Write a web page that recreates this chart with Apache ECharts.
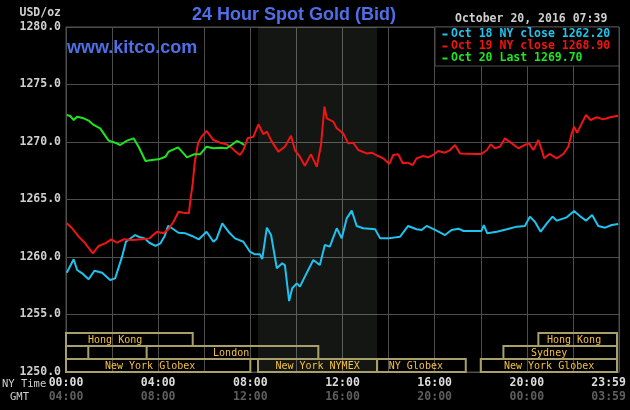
<!DOCTYPE html>
<html>
<head>
<meta charset="utf-8">
<script src="https://cdn.jsdelivr.net/npm/echarts@6.0.0/dist/echarts.min.js"></script>
<style>
html,body{margin:0;padding:0;background:#000;}
#chart{width:630px;height:410px;}
</style>
</head>
<body>
<div id="chart"></div>
<script>
// ---- Data (x = minutes after 00:00 NY time, y = USD/oz) ----
const oct18 = [[2,1258.63],[20,1259.80],[29,1258.87],[42,1258.58],[59,1258.06],[74,1258.81],[94,1258.63],[115,1258.00],[128,1258.14],[146,1260.03],[156,1261.33],[180,1261.91],[193,1261.71],[205,1261.62],[217,1261.24],[233,1260.96],[246,1261.19],[257,1261.83],[266,1262.70],[276,1262.50],[293,1262.11],[311,1262.06],[328,1261.83],[346,1261.54],[366,1262.20],[384,1261.33],[392,1261.57],[407,1262.93],[423,1262.20],[440,1261.62],[462,1261.33],[479,1260.46],[492,1260.23],[505,1260.23],[511,1259.83],[523,1262.55],[534,1261.91],[549,1259.02],[563,1259.45],[570,1259.30],[581,1256.17],[589,1257.28],[601,1257.71],[609,1257.42],[622,1258.29],[644,1259.74],[661,1259.30],[674,1261.04],[687,1260.90],[705,1262.50],[718,1261.62],[731,1263.36],[744,1264.03],[757,1262.70],[774,1262.50],[805,1262.41],[818,1261.62],[839,1261.62],[870,1261.77],[891,1262.70],[913,1262.41],[926,1262.35],[939,1262.70],[965,1262.29],[987,1261.91],[1004,1262.35],[1022,1262.46],[1035,1262.26],[1065,1262.26],[1082,1262.26],[1088,1262.78],[1097,1262.06],[1122,1262.20],[1148,1262.41],[1174,1262.64],[1195,1262.70],[1208,1263.51],[1221,1263.07],[1236,1262.20],[1252,1262.93],[1267,1263.51],[1278,1263.16],[1304,1263.45],[1323,1264.00],[1338,1263.57],[1354,1263.16],[1370,1263.65],[1386,1262.70],[1404,1262.55],[1421,1262.78],[1438,1262.87]];

const oct19 = [[2,1262.93],[16,1262.50],[33,1261.77],[50,1261.19],[70,1260.32],[85,1260.96],[102,1261.19],[118,1261.54],[133,1261.24],[150,1261.54],[172,1261.48],[198,1261.54],[217,1261.62],[237,1262.20],[254,1262.06],[267,1262.41],[280,1263.07],[293,1263.94],[306,1263.85],[320,1263.80],[324,1264.96],[330,1266.41],[335,1268.15],[344,1269.94],[353,1270.46],[366,1270.96],[384,1270.17],[401,1269.94],[418,1269.80],[431,1269.51],[440,1269.22],[453,1268.87],[462,1269.30],[473,1270.32],[488,1270.46],[501,1271.54],[514,1270.67],[523,1270.90],[536,1270.03],[553,1269.16],[570,1269.59],[586,1270.55],[596,1269.30],[609,1268.72],[622,1267.94],[638,1268.93],[653,1267.85],[664,1269.74],[673,1273.07],[679,1272.06],[696,1271.77],[705,1271.19],[722,1270.75],[735,1269.88],[748,1269.94],[761,1269.30],[783,1269.01],[796,1269.07],[813,1268.78],[826,1268.58],[842,1268.09],[852,1268.87],[865,1268.93],[877,1268.15],[889,1268.20],[903,1268.00],[913,1268.58],[930,1268.78],[943,1268.67],[956,1268.87],[969,1269.22],[987,1269.07],[1000,1269.30],[1013,1269.74],[1026,1269.01],[1065,1268.96],[1082,1268.96],[1096,1269.30],[1106,1269.80],[1117,1269.45],[1130,1269.59],[1143,1270.32],[1161,1269.88],[1178,1269.45],[1195,1269.74],[1206,1269.88],[1217,1269.30],[1230,1270.17],[1239,1269.30],[1245,1268.58],[1259,1268.96],[1278,1268.58],[1295,1268.96],[1308,1269.59],[1317,1270.75],[1323,1271.33],[1331,1270.81],[1343,1271.62],[1354,1272.35],[1366,1271.91],[1382,1272.15],[1399,1271.97],[1417,1272.15],[1438,1272.29]];

const oct20 = [[2,1272.35],[11,1272.26],[20,1271.91],[29,1272.20],[46,1272.06],[59,1271.86],[72,1271.48],[89,1271.19],[98,1270.75],[111,1270.12],[128,1269.94],[141,1269.74],[159,1270.12],[176,1270.32],[189,1269.59],[207,1268.35],[224,1268.43],[241,1268.49],[259,1268.72],[267,1269.16],[292,1269.54],[302,1269.16],[315,1268.67],[333,1268.93],[349,1268.93],[366,1269.59],[384,1269.45],[401,1269.51],[418,1269.45],[431,1269.74],[445,1270.09],[458,1269.88],[464,1269.74]];

const legendLabels = ['Oct 18 NY close 1262.20', 'Oct 19 NY close 1268.90', 'Oct 20 Last 1269.70'];
const nyTimeLabels = ['00:00', '04:00', '08:00', '12:00', '16:00', '20:00', '23:59'];
const gmtLabels = ['04:00', '08:00', '12:00', '16:00', '20:00', '00:00', '03:59'];
const titleText = '24 Hour Spot Gold (Bid)';
const siteText = 'www.kitco.com';
const dateText = 'October 20, 2016 07:39';
const unitText = 'USD/oz';

// NYMEX pit session (shaded)
const nymexStart = 500, nymexEnd = 810;

// Market sessions (minutes NY time), row 0 = bottom row
const sessionNames   = ['New York Globex', 'New York NYMEX', 'NY Globex', 'New York Globex', '', 'London', 'Sydney', 'Hong Kong', 'Hong Kong'];
const sessionStart   = [-360, 500, 810, 1080, -300, 210, 1139, -180, 1230];
const sessionEnd     = [480, 810, 1041, 1800, 58, 657, 1800, 330, 1800];
const sessionRow     = [0, 0, 0, 0, 1, 1, 1, 2, 2];
const sessionLabelAt = [219, 655, 911, 1258, 0, 430, 1258, 128, 1323];

// ---- Styles ----
const MONO = "'DejaVu Sans Mono', monospace";
const colors = ['#1ec4ef', '#f01414', '#1ee61e'];
const gridColor = '#4e4e4e';

const chart = echarts.init(document.getElementById('chart'), null, {renderer: 'canvas'});

const lineSeries = (name, data, color, extra) => Object.assign({
  name, type: 'line', data, showSymbol: false, symbol: 'none',
  lineStyle: {color, width: 2}, itemStyle: {color}, animation: false, silent: true
}, extra || {});

const option = {
  backgroundColor: '#000',
  animation: false,
  textStyle: {fontFamily: MONO},
  grid: {left: 66, right: 11, top: 27, bottom: 38, show: true, borderColor: gridColor, borderWidth: 1,
         containLabel: false, outerBoundsMode: 'none'},
  xAxis: {
    type: 'value', min: 0, max: 1440, interval: 120,
    axisLine: {show: true, lineStyle: {color: gridColor}},
    axisTick: {show: false},
    splitLine: {show: true, lineStyle: {color: gridColor, width: 1}},
    axisLabel: {
      margin: 4, showMinLabel: true, showMaxLabel: true, hideOverlap: false,
      formatter: function (v) {
        if (v % 240 !== 0 && v !== 1440) return '';
        if (v === 1440) return '{a|' + nyTimeLabels[6] + '   }\n{b|' + gmtLabels[6] + '   }';
        const i = v / 240;
        return '{a|' + nyTimeLabels[i] + '}\n{b|' + gmtLabels[i] + '}';
      },
      rich: {
        a: {color: '#dcdcdc', fontFamily: MONO, fontSize: 11.5, fontWeight: 'bold', lineHeight: 14},
        b: {color: '#5e5e5e', fontFamily: MONO, fontSize: 11.5, fontWeight: 'bold', lineHeight: 14}
      }
    }
  },
  yAxis: {
    type: 'value', min: 1250, max: 1280, interval: 5,
    axisLine: {show: true, lineStyle: {color: gridColor}},
    axisTick: {show: false},
    splitLine: {show: true, lineStyle: {color: gridColor, width: 1}},
    axisLabel: {
      margin: 5, color: '#d0d0d0', fontFamily: MONO, fontSize: 11.5, fontWeight: 'bold',
      formatter: v => v.toFixed(1)
    }
  },
  series: [
    lineSeries('Oct 18', oct18, colors[0], {
      markArea: {
        silent: true,
        itemStyle: {color: 'rgba(220,255,220,0.085)'},
        data: [[{xAxis: nymexStart}, {xAxis: nymexEnd}]]
      }
    }),
    lineSeries('Oct 19', oct19, colors[1]),
    lineSeries('Oct 20', oct20, colors[2]),
    {
      type: 'custom', silent: true, clip: false, z: 5,
      data: sessionStart.map((s, i) => [s, sessionEnd[i], 1250]),
      encode: {x: [0, 1], y: 2},
      renderItem: function (params, api) {
        const i = params.dataIndex;
        const cs = params.coordSys;
        const rowH = 13;
        const base = api.coord([0, 1250])[1];
        const x0 = Math.max(api.coord([sessionStart[i], 1250])[0], cs.x);
        const x1 = Math.min(api.coord([sessionEnd[i], 1250])[0], cs.x + cs.width - 2);
        const top = base - (sessionRow[i] + 1) * rowH;
        const children = [{
          type: 'rect',
          shape: {x: x0, y: top, width: x1 - x0, height: rowH},
          style: {fill: 'transparent', stroke: '#a89f6a', lineWidth: 2}
        }];
        if (sessionNames[i]) {
          children.push({
            type: 'text',
            x: api.coord([sessionLabelAt[i], 1250])[0],
            y: top + rowH / 2 + 0.5,
            style: {text: sessionNames[i], fill: '#f5c040', fontFamily: MONO, fontSize: 10,
                    align: 'center', verticalAlign: 'middle'}
          });
        }
        return {type: 'group', children};
      }
    }
  ],
  graphic: [
    {type: 'text', x: 294, y: 15, z: 100,
     style: {text: titleText, fill: '#4e6fe6', font: "bold 18px 'Liberation Sans', Arial, sans-serif",
             align: 'center', verticalAlign: 'middle'}},
    {type: 'text', x: 67, y: 48, z: 100,
     style: {text: siteText, fill: '#4e6fe6', font: "bold 18px 'Liberation Sans', Arial, sans-serif",
             align: 'left', verticalAlign: 'middle'}},
    {type: 'text', x: 61, y: 13, z: 100,
     style: {text: unitText, fill: '#d0d0d0', font: "bold 11.5px 'DejaVu Sans Mono', monospace",
             align: 'right', verticalAlign: 'middle'}},
    {type: 'text', x: 455, y: 19, z: 100,
     style: {text: dateText, fill: '#cfcfcf', font: "bold 11.5px 'DejaVu Sans Mono', monospace",
             align: 'left', verticalAlign: 'middle'}},
    {type: 'rect', z: 100, shape: {x: 435, y: 27, width: 184, height: 39},
     style: {fill: '#000', stroke: gridColor, lineWidth: 1}},
    ...legendLabels.flatMap((t, i) => [
      {type: 'rect', z: 101, shape: {x: 442.5, y: 33.5 + i * 12, width: 5, height: 2},
       style: {fill: colors[i]}},
      {type: 'text', z: 101, x: 451, y: 34.5 + i * 12,
       style: {text: t, fill: colors[i], font: "bold 11.5px 'DejaVu Sans Mono', monospace",
               align: 'left', verticalAlign: 'middle'}}
    ]),
    {type: 'text', x: 2, y: 384, z: 100,
     style: {text: 'NY Time', fill: '#cfcfcf', font: "10.5px 'DejaVu Sans Mono', monospace",
             align: 'left', verticalAlign: 'middle'}},
    {type: 'text', x: 10, y: 397, z: 100,
     style: {text: 'GMT', fill: '#cfcfcf', font: "10.5px 'DejaVu Sans Mono', monospace",
             align: 'left', verticalAlign: 'middle'}}
  ]
};
chart.setOption(option);
</script>
</body>
</html>
